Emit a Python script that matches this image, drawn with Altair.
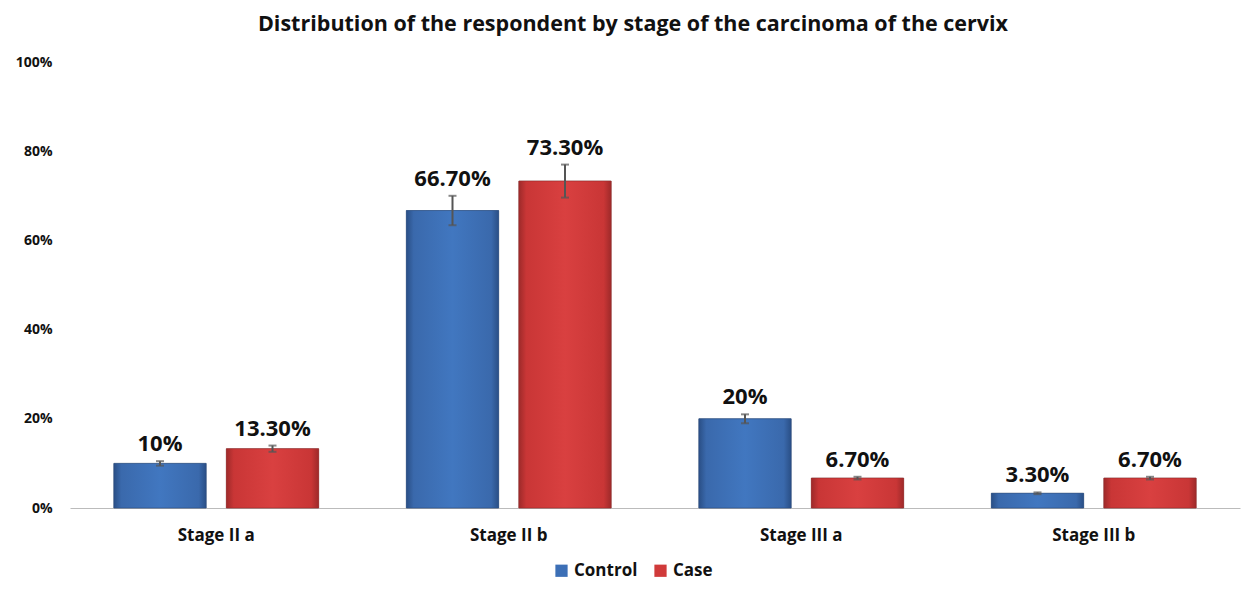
import altair as alt
import pandas as pd

stages = ["Stage II a", "Stage II b", "Stage III a", "Stage III b"]
control = [10.0, 66.7, 20.0, 3.3]
case = [13.3, 73.3, 6.7, 6.7]
control_labels = ["10%", "66.70%", "20%", "3.30%"]
case_labels = ["13.30%", "73.30%", "6.70%", "6.70%"]
control_err = [0.5, 3.3, 1.0, 0.2]
case_err = [0.7, 3.7, 0.3, 0.3]
groups = ["Control", "Case"]
colors = ["#3C6FB6", "#D03A3A"]

rows = []
for i, s in enumerate(stages):
    rows.append({"stage": s, "group": "Control", "value": control[i], "label": control_labels[i],
                 "lo": control[i] - control_err[i], "hi": control[i] + control_err[i]})
    rows.append({"stage": s, "group": "Case", "value": case[i], "label": case_labels[i],
                 "lo": case[i] - case_err[i], "hi": case[i] + case_err[i]})
df = pd.DataFrame(rows)

FONT = "Open Sans"

x = alt.X("stage:N", sort=stages, title=None,
          scale=alt.Scale(paddingInner=0.3, paddingOuter=0.15),
          axis=alt.Axis(labelAngle=0, labelFont=FONT, labelFontWeight="bold", labelFontSize=17,
                        labelColor="#111", ticks=False, domainColor="#BBBBBB", labelPadding=19))
xo = alt.XOffset("group:N", sort=groups, scale=alt.Scale(paddingInner=0.18, paddingOuter=0))
y = alt.Y("value:Q", title=None,
          scale=alt.Scale(domain=[0, 100], nice=False),
          axis=alt.Axis(values=[0, 20, 40, 60, 80, 100], labelExpr="datum.value + '%'", grid=False,
                        domain=False, ticks=False, labelFont=FONT, labelFontWeight="bold",
                        labelFontSize=14, labelColor="#111", labelPadding=18))

base = alt.Chart(df)

bars = base.mark_bar(stroke="#666", strokeWidth=0.5).encode(
    x=x, xOffset=xo, y=y,
    color=alt.Color("group:N", sort=groups, scale=alt.Scale(domain=groups, range=colors),
                    legend=alt.Legend(title=None, orient="none", legendX=483, legendY=500,
                                      direction="horizontal", symbolType="square", symbolSize=150,
                                      symbolStrokeWidth=0, labelFont=FONT, labelFontWeight="bold",
                                      labelFontSize=17, labelColor="#111", columnPadding=14,
                                      labelOffset=4)),
)

def grad(dark, mid, light):
    return alt.LinearGradient(gradient="linear", x1=0, x2=1, y1=0, y2=0,
                              stops=[alt.GradientStop(offset=0, color=dark),
                                     alt.GradientStop(offset=0.08, color=mid),
                                     alt.GradientStop(offset=0.5, color=light),
                                     alt.GradientStop(offset=0.92, color=mid),
                                     alt.GradientStop(offset=1, color=dark)])

ctrl_grad = base.transform_filter(alt.datum.group == "Control").mark_bar(
    color=grad("#2A4F86", "#3A69AC", "#4177C0"), stroke="#2A4F86", strokeWidth=0.6
).encode(x=x, xOffset=xo, y=y)
case_grad = base.transform_filter(alt.datum.group == "Case").mark_bar(
    color=grad("#9E2A2A", "#C93636", "#D94040"), stroke="#9E2A2A", strokeWidth=0.6
).encode(x=x, xOffset=xo, y=y)

err = base.mark_rule(color="#555", strokeWidth=2).encode(
    x=x, xOffset=xo, y=alt.Y("lo:Q"), y2="hi:Q")
cap_hi = base.mark_tick(color="#555", orient="horizontal", size=8, thickness=2).encode(
    x=x, xOffset=xo, y=alt.Y("hi:Q"))
cap_lo = base.mark_tick(color="#555", orient="horizontal", size=8, thickness=2).encode(
    x=x, xOffset=xo, y=alt.Y("lo:Q"))

text = base.mark_text(font=FONT, fontWeight="bold", fontSize=22, color="#111",
                      baseline="bottom", dy=-5).encode(
    x=x, xOffset=xo, y=alt.Y("hi:Q"), text="label:N")

chart = alt.layer(bars, ctrl_grad, case_grad, err, cap_hi, cap_lo, text).properties(
    width=1170, height=446,
    background="white",
    autosize=alt.AutoSizeParams(type="none"),
    padding={"left": 62, "top": 54, "right": 1, "bottom": 76},
    title=alt.TitleParams("Distribution of the respondent by stage of the carcinoma of the cervix",
                          font=FONT, fontWeight="bold", fontSize=21.5, color="#111",
                          anchor="middle", dx=-22, offset=20),
).configure_view(strokeWidth=0, stroke=None)

chart.save("out.html", embed_options={"renderer": "svg", "actions": False})
